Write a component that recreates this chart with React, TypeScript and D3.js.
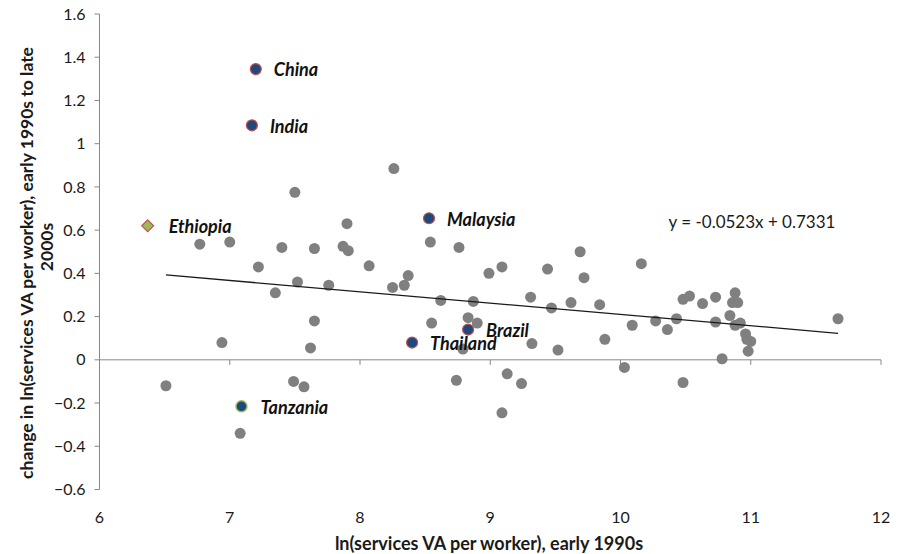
import React from "react";
import * as d3 from "d3";

// Countries in the pooled sample (grey markers)
const sampleX = [
  6.51, 6.77, 6.94, 7.0, 7.08, 7.22, 7.35, 7.4, 7.49, 7.5, 7.52, 7.57, 7.62, 7.65, 7.65, 7.76, 7.87, 7.9,
  7.91, 8.07, 8.25, 8.26, 8.34, 8.37, 8.54, 8.55, 8.62, 8.74, 8.76, 8.79, 8.83, 8.87, 8.9, 8.99, 9.09,
  9.09, 9.13, 9.24, 9.31, 9.32, 9.44, 9.47, 9.52, 9.62, 9.69, 9.72, 9.84, 9.88, 10.03, 10.09, 10.16,
  10.27, 10.36, 10.43, 10.48, 10.48, 10.53, 10.63, 10.73, 10.73, 10.78, 10.84, 10.86, 10.88, 10.88,
  10.9, 10.92, 10.96, 10.97, 10.98, 11.0, 11.67,
];
const sampleY = [
  -0.12, 0.535, 0.08, 0.545, -0.34, 0.43, 0.31, 0.52, -0.1, 0.775, 0.36, -0.125, 0.055, 0.515, 0.18,
  0.345, 0.525, 0.63, 0.505, 0.435, 0.335, 0.885, 0.345, 0.39, 0.545, 0.17, 0.275, -0.095, 0.52, 0.05,
  0.195, 0.27, 0.17, 0.4, 0.43, -0.245, -0.065, -0.11, 0.29, 0.075, 0.42, 0.24, 0.045, 0.265, 0.5, 0.38,
  0.255, 0.095, -0.035, 0.16, 0.445, 0.18, 0.14, 0.19, 0.28, -0.105, 0.295, 0.26, 0.29, 0.175, 0.005,
  0.205, 0.265, 0.31, 0.16, 0.265, 0.17, 0.12, 0.095, 0.04, 0.085, 0.19,
];

// Named countries
const namedCountries = ["China", "India", "Malaysia", "Brazil", "Thailand"];
const namedX = [7.2, 7.17, 8.53, 8.83, 8.4];
const namedY = [1.345, 1.085, 0.655, 0.14, 0.08];

const tanzania = { name: "Tanzania", x: 7.09, y: -0.215 };
const ethiopia = { name: "Ethiopia", x: 6.37, y: 0.62 };

// Linear fit
const slope = -0.0523;
const intercept = 0.7331;

const xTicks = [6, 7, 8, 9, 10, 11, 12];
const yTicks = [-0.6, -0.4, -0.2, 0, 0.2, 0.4, 0.6, 0.8, 1, 1.2, 1.4, 1.6];

const W = 902;
const H = 554;
const FONT = "Lato, 'Open Sans', 'DejaVu Sans', sans-serif";

export default function App() {
  const x = d3.scaleLinear().domain([6, 12]).range([99.5, 881]);
  const y = d3.scaleLinear().domain([-0.6, 1.6]).range([489.5, 14]);

  const axisColor = "#888888";
  const fitDomain = d3.extent(sampleX) as [number, number];
  const fitLine = d3
    .line<number>()
    .x((d) => x(d))
    .y((d) => y(slope * d + intercept));

  const yFmt = (v: number) => (Math.abs(v) < 1e-9 ? "0" : d3.format("")(+v.toFixed(1)));

  const labelStyle: React.CSSProperties = {
    fontFamily: FONT,
    fontWeight: 700,
    fontStyle: "italic",
    fontSize: 18,
    fill: "#111",
  };

  const diamond = d3.symbol().type(d3.symbolDiamond2).size(90)() as string;

  return (
    <svg
      width={W}
      height={H}
      style={{ position: "absolute", left: 0, top: 0, background: "#fff" }}
    >
      <rect width={W} height={H} fill="#fff" />

      {/* y axis */}
      <line x1={x(6)} x2={x(6)} y1={y(1.6)} y2={y(-0.6)} stroke={axisColor} strokeWidth={1} />
      {yTicks.map((t) => (
        <g key={"yt" + t}>
          <line x1={x(6) - 5} x2={x(6)} y1={y(t)} y2={y(t)} stroke={axisColor} />
          <text
            x={x(6) - 14}
            y={y(t)}
            dy="0.35em"
            textAnchor="end"
            fontFamily={FONT}
            fontSize={16}
            fill="#1a1a1a"
          >
            {yFmt(t)}
          </text>
        </g>
      ))}

      {/* x axis along y = 0 */}
      <line x1={x(6)} x2={x(12)} y1={y(0)} y2={y(0)} stroke={axisColor} strokeWidth={1} />
      {xTicks.map((t) => (
        <g key={"xt" + t}>
          <line x1={x(t)} x2={x(t)} y1={y(0)} y2={y(0) + 5} stroke={axisColor} />
          <text
            x={x(t)}
            y={517}
            dy="0.35em"
            textAnchor="middle"
            fontFamily={FONT}
            fontSize={16}
            fill="#1a1a1a"
          >
            {t}
          </text>
        </g>
      ))}

      {/* axis titles */}
      <text
        x={489}
        y={544}
        dy="0.35em"
        textAnchor="middle"
        fontFamily={FONT}
        fontWeight={700}
        fontSize={18}
        fill="#1a1a1a"
      >
        ln(services VA per worker), early 1990s
      </text>
      <text
        transform={`translate(27,263) rotate(-90)`}
        textAnchor="middle"
        dy="0.35em"
        fontFamily={FONT}
        fontWeight={700}
        fontSize={17.5}
        fill="#1a1a1a"
      >
        change in ln(services VA per worker), early 1990s to late
      </text>
      <text
        transform={`translate(47,247) rotate(-90)`}
        textAnchor="middle"
        dy="0.35em"
        fontFamily={FONT}
        fontWeight={700}
        fontSize={17.5}
        fill="#1a1a1a"
      >
        2000s
      </text>

      {/* sample markers */}
      {sampleX.map((v, i) => (
        <circle key={"s" + i} cx={x(v)} cy={y(sampleY[i])} r={5.5} fill="#808080" />
      ))}

      {/* fitted line */}
      <path d={fitLine(fitDomain) as string} fill="none" stroke="#1a1a1a" strokeWidth={1.3} />

      {/* named countries */}
      {namedCountries.map((n, i) => (
        <g key={n}>
          <circle
            cx={x(namedX[i])}
            cy={y(namedY[i])}
            r={5.5}
            fill="#1f497d"
            stroke="#c0504d"
            strokeWidth={1.2}
          />
          <text x={x(namedX[i]) + 18} y={y(namedY[i]) + 1} dy="0.35em" style={labelStyle}>
            {n}
          </text>
        </g>
      ))}

      <circle
        cx={x(tanzania.x)}
        cy={y(tanzania.y)}
        r={5.5}
        fill="#1f497d"
        stroke="#9bbb59"
        strokeWidth={1.4}
      />
      <text x={x(tanzania.x) + 19} y={y(tanzania.y) + 1} dy="0.35em" style={labelStyle}>
        {tanzania.name}
      </text>

      <path
        d={diamond}
        transform={`translate(${x(ethiopia.x)},${y(ethiopia.y)})`}
        fill="#9bbb59"
        stroke="#c0504d"
        strokeWidth={1.2}
      />
      <text x={x(ethiopia.x) + 21} y={y(ethiopia.y) + 1} dy="0.35em" style={labelStyle}>
        {ethiopia.name}
      </text>

      {/* fit equation */}
      <text
        x={752}
        y={222}
        dy="0.35em"
        textAnchor="middle"
        fontFamily={FONT}
        fontSize={17}
        fill="#1a1a1a"
      >
        {`y = ${slope}x + ${intercept}`}
      </text>
    </svg>
  );
}
